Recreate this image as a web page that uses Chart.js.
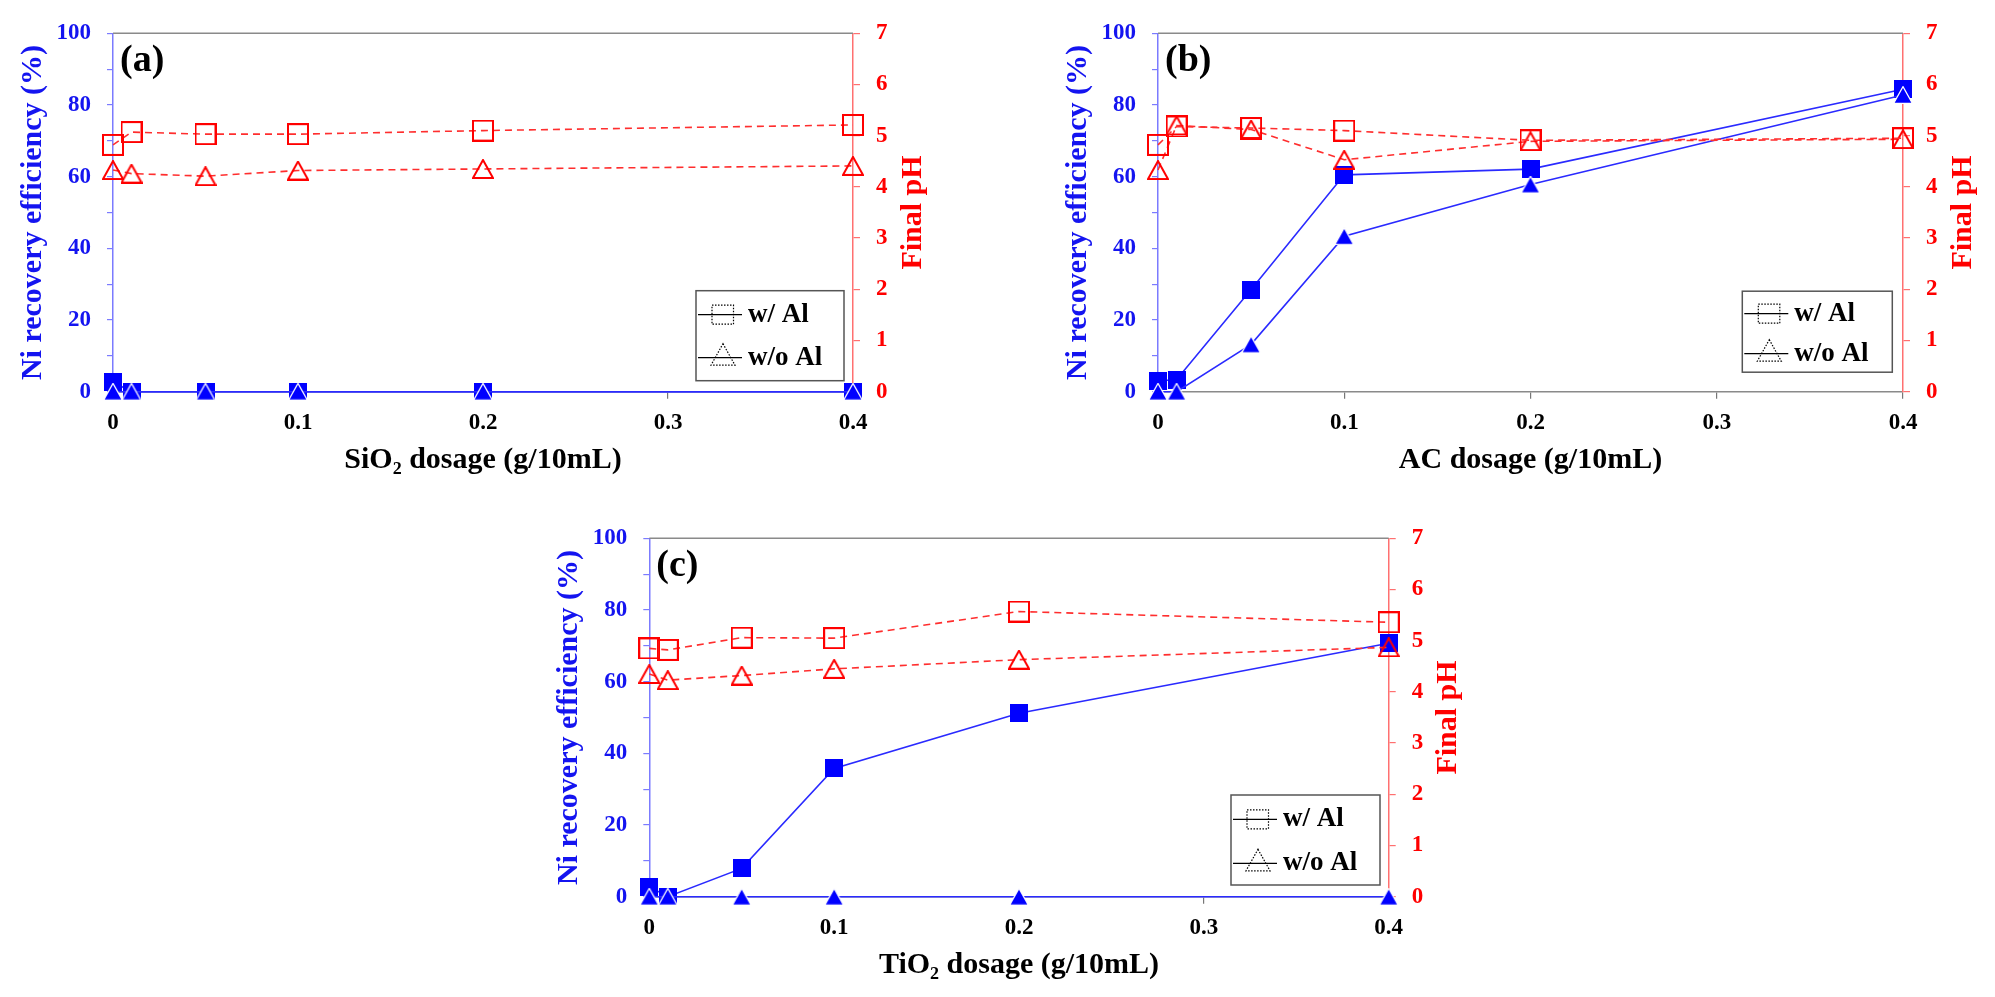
<!DOCTYPE html>
<html>
<head>
<meta charset="utf-8">
<title>Ni recovery efficiency and final pH vs. adsorbent dosage</title>
<script src="https://cdn.jsdelivr.net/npm/chart.js@4.4.1/dist/chart.umd.min.js"></script>
<style>
  html, body { margin: 0; padding: 0; background: #fff; }
  body { width: 1995px; height: 997px; position: relative; overflow: hidden; }
  canvas { position: absolute; }
</style>
</head>
<body>
<canvas id="chartA" width="960" height="490" style="left:0px;top:0px"></canvas>
<canvas id="chartB" width="950" height="490" style="left:1045px;top:0px"></canvas>
<canvas id="chartC" width="960" height="490" style="left:536px;top:505px"></canvas>
<script>
// dosage (g/10mL) shared by all three panels
const dosage = [0, 0.01, 0.05, 0.1, 0.2, 0.4];
const xTickValues = [0, 0.1, 0.2, 0.3, 0.4];
const niTickValues = [0, 10, 20, 30, 40, 50, 60, 70, 80, 90, 100];
const niLabelValues = [0, 20, 40, 60, 80, 100];
const phTickValues = [0, 1, 2, 3, 4, 5, 6, 7];
const legendLabels = ["w/ Al", "w/o Al"];

// (a) SiO2
const sio2NiWithAl = [2.7, 0, 0, 0, 0, 0];
const sio2NiWithoutAl = [0, 0, 0, 0, 0, 0];
const sio2PhWithAl = [4.82, 5.07, 5.03, 5.03, 5.10, 5.21];
const sio2PhWithoutAl = [4.33, 4.26, 4.21, 4.32, 4.35, 4.41];

// (b) AC
const acNiWithAl = [3.0, 3.4, 28.5, 60.5, 62.1, 84.4];
const acNiWithoutAl = [0, 0, 13.2, 43.4, 57.8, 82.8];
const acPhWithAl = [4.82, 5.18, 5.15, 5.10, 4.91, 4.95];
const acPhWithoutAl = [4.33, 5.20, 5.12, 4.53, 4.89, 4.93];

// (c) TiO2
const tio2NiWithAl = [2.8, 0, 7.9, 35.8, 51.2, 70.7];
const tio2NiWithoutAl = [0, 0, 0, 0, 0, 0];
const tio2PhWithAl = [4.85, 4.82, 5.06, 5.05, 5.57, 5.36];
const tio2PhWithoutAl = [4.35, 4.23, 4.32, 4.45, 4.63, 4.87];

const SERIF = "'Liberation Serif', 'Times New Roman', serif";
const BLUE = "#0000ff";
const BLUE_LINE = "#2a2aff";
const BLUE_AXIS = "#7b7bff";
const BLUE_TEXT = "#1414f0";
const RED = "#ff0000";
const RED_LINE = "#ff2e2e";
const RED_AXIS = "#ff7070";
const GRAY_AXIS = "#8a8a8a";

Chart.defaults.font.family = SERIF;
Chart.defaults.font.weight = "bold";

// marker glyphs, drawn centred on their bounding box
function marker(shape, w, h, fill, stroke, lw) {
  const c = document.createElement("canvas");
  c.width = w;
  c.height = h;
  const g = c.getContext("2d");
  const p = lw / 2;
  g.beginPath();
  if (shape === "square") {
    g.rect(p, p, w - lw, h - lw);
  } else {
    g.moveTo(w / 2, p);
    g.lineTo(w - p, h - p);
    g.lineTo(p, h - p);
    g.closePath();
  }
  if (fill) { g.fillStyle = fill; g.fill(); }
  if (stroke) { g.strokeStyle = stroke; g.lineWidth = lw; g.stroke(); }
  return c;
}
const redSquare = marker("square", 22, 22, null, RED, 2);
const redTriangle = marker("triangle", 22, 20, null, RED, 2);
const blueSquare = marker("square", 18, 18, BLUE, null, 0);
const blueTriangle = marker("triangle", 20, 18, BLUE, "#ffffff", 1.2);

function series(label, values, color, dash, style, axis) {
  return {
    label: label,
    data: dosage.map((x, i) => ({ x: x, y: values[i] })),
    borderColor: color,
    borderWidth: 1.6,
    borderDash: dash,
    pointStyle: style,
    pointRadius: 10,
    yAxisID: axis,
    clip: false,
    tension: 0,
  };
}

// frame top line, panel tag, right axis title and the boxed legend
const panelDecor = {
  id: "panelDecor",
  afterDraw(chart, args, opts) {
    const ctx = chart.ctx;
    const a = chart.chartArea;
    ctx.save();
    ctx.strokeStyle = GRAY_AXIS;
    ctx.lineWidth = 1.5;
    ctx.beginPath();
    ctx.moveTo(a.left, a.top);
    ctx.lineTo(a.right, a.top);
    ctx.stroke();

    ctx.fillStyle = "#000";
    ctx.font = "bold 38px " + SERIF;
    ctx.textAlign = "left";
    ctx.textBaseline = "middle";
    ctx.fillText(opts.tag, a.left + 7, a.top + 28);

    ctx.save();
    ctx.translate(a.right + 60, (a.top + a.bottom) / 2);
    ctx.rotate(-Math.PI / 2);
    ctx.fillStyle = RED;
    ctx.font = "bold 30px " + SERIF;
    ctx.textAlign = "center";
    ctx.fillText("Final pH", 0, 0);
    ctx.restore();

    const L = opts.box;
    const bx = a.right - L.right - L.w;
    const by = a.bottom - L.bottom - L.h;
    ctx.strokeStyle = "#555";
    ctx.lineWidth = 1.5;
    ctx.strokeRect(bx, by, L.w, L.h);
    ctx.font = "bold 27px " + SERIF;
    ctx.fillStyle = "#000";
    legendLabels.forEach((text, i) => {
      const cy = by + L.rows[i];
      ctx.strokeStyle = "#000";
      ctx.lineWidth = 1.2;
      ctx.setLineDash([]);
      ctx.beginPath();
      ctx.moveTo(bx + 2, cy);
      ctx.lineTo(bx + 46, cy);
      ctx.stroke();
      ctx.setLineDash([1.5, 1.5]);
      ctx.beginPath();
      if (i === 0) {
        ctx.rect(bx + 16, cy - 9.5, 21.5, 19);
      } else {
        ctx.moveTo(bx + 27, cy - 14);
        ctx.lineTo(bx + 39, cy + 7.5);
        ctx.lineTo(bx + 15, cy + 7.5);
        ctx.closePath();
      }
      ctx.stroke();
      ctx.setLineDash([]);
      ctx.fillText(text, bx + 52, cy);
    });
    ctx.restore();
  },
};

function buildChart(id, xTitle, tag, niWith, niWithout, phWith, phWithout, frame, box) {
  return new Chart(document.getElementById(id), {
    type: "line",
    data: {
      datasets: [
        series(legendLabels[0] + " pH", phWith, RED_LINE, [7, 5], redSquare, "y2"),
        series(legendLabels[1] + " pH", phWithout, RED_LINE, [7, 5], redTriangle, "y2"),
        series(legendLabels[1], niWithout, BLUE_LINE, [], blueTriangle, "y"),
        series(legendLabels[0], niWith, BLUE_LINE, [], blueSquare, "y"),
      ],
    },
    options: {
      responsive: false,
      animation: false,
      devicePixelRatio: 1,
      layout: { padding: { top: 33.3, left: 0, right: 0, bottom: 0 } },
      plugins: {
        legend: { display: false },
        tooltip: { enabled: false },
        panelDecor: { tag: tag, box: box },
      },
      scales: {
        x: {
          type: "linear", min: 0, max: 0.4,
          afterBuildTicks: (s) => { s.ticks = xTickValues.map((v) => ({ value: v })); },
          afterFit: (s) => { s.height = 98.3; },
          ticks: { color: "#000", padding: 10.5, font: { size: 23 }, callback: (v) => String(v) },
          grid: { drawOnChartArea: false, tickLength: 7, color: "#777", lineWidth: 1.2 },
          border: { color: GRAY_AXIS, width: 1.5 },
          title: { display: true, text: xTitle, color: "#000", font: { size: 30 }, padding: { top: 0, bottom: 12 } },
        },
        y: {
          position: "left", min: 0, max: 100,
          afterBuildTicks: (s) => { s.ticks = niTickValues.map((v) => ({ value: v })); },
          afterFit: (s) => { s.width = frame.yWidth; },
          ticks: { color: BLUE_TEXT, padding: 16, font: { size: 23 },
            callback: (v) => (niLabelValues.includes(v) ? String(v) : "") },
          grid: { drawOnChartArea: false, tickLength: 6, color: BLUE_AXIS, lineWidth: 1.2 },
          border: { color: BLUE_AXIS, width: 1.5 },
          title: { display: true, text: "Ni recovery efficiency (%)", color: BLUE_TEXT, font: { size: 30 },
            padding: { top: frame.yWidth - 80 - 18, bottom: 0 } },
        },
        y2: {
          position: "right", min: 0, max: 7,
          afterBuildTicks: (s) => { s.ticks = phTickValues.map((v) => ({ value: v })); },
          afterFit: (s) => { s.width = frame.y2Width; },
          ticks: { color: RED, padding: 16, font: { size: 23 } },
          grid: { drawOnChartArea: false, tickLength: 7, color: RED_AXIS, lineWidth: 1.2 },
          border: { color: RED_AXIS, width: 1.5 },
        },
      },
    },
    plugins: [panelDecor],
  });
}

buildChart("chartA", "SiO\u2082 dosage (g/10mL)", "(a)",
  sio2NiWithAl, sio2NiWithoutAl, sio2PhWithAl, sio2PhWithoutAl,
  { yWidth: 113, y2Width: 107 },
  { right: 9, bottom: 11, w: 148, h: 90, rows: [24, 67] });

buildChart("chartB", "AC dosage (g/10mL)", "(b)",
  acNiWithAl, acNiWithoutAl, acPhWithAl, acPhWithoutAl,
  { yWidth: 113, y2Width: 92 },
  { right: 10.7, bottom: 19.5, w: 150, h: 81, rows: [22.5, 62.5] });

buildChart("chartC", "TiO\u2082 dosage (g/10mL)", "(c)",
  tio2NiWithAl, tio2NiWithoutAl, tio2PhWithAl, tio2PhWithoutAl,
  { yWidth: 113.3, y2Width: 107.3 },
  { right: 8.7, bottom: 11.7, w: 149, h: 90, rows: [24.3, 68.3] });
</script>
</body>
</html>
